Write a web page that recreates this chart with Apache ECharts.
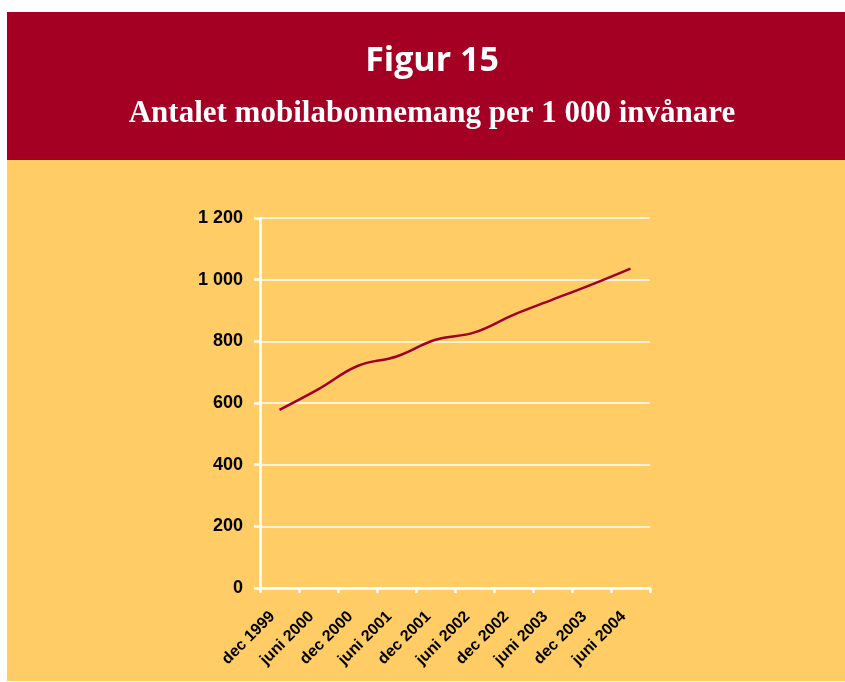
<!DOCTYPE html>
<html>
<head>
<meta charset="utf-8">
<script src="https://cdn.jsdelivr.net/npm/echarts@6/dist/echarts.min.js"></script>
<style>
  html, body { margin: 0; padding: 0; background: #fff; }
  #chart { width: 845px; height: 682px; }
</style>
</head>
<body>
<div id="chart"></div>
<script>
// kategorier (halvår)
const perioder = ['dec 1999', 'juni 2000', 'dec 2000', 'juni 2001', 'dec 2001',
                  'juni 2002', 'dec 2002', 'juni 2003', 'dec 2003', 'juni 2004'];
// mobilabonnemang per 1 000 invånare
const abonnemang = [578, 645, 720, 751, 805, 829, 886, 935, 984, 1036];
// y-axelns skala
const yMin = 0;
const yMax = 1200;
const yStep = 200;

const chart = echarts.init(document.getElementById('chart'), null, { renderer: 'canvas' });

// tusentalsavgränsare med mellanslag, t.ex. "1 200"
function fmt(v) {
    return String(v).replace(/\B(?=(\d{3})+(?!\d))/g, ' ');
}

const option = {
    backgroundColor: '#ffffff',
    animation: false,
    graphic: [
        { type: 'rect', z: -10, shape: { x: 7, y: 12, width: 838, height: 148 }, style: { fill: '#A30024' } },
        { type: 'rect', z: -10, shape: { x: 7, y: 160, width: 838, height: 521 }, style: { fill: '#FFCC66' } },
        {
            type: 'text', x: 432, y: 61,
            style: { text: 'Figur 15', fill: '#fff', align: 'center', verticalAlign: 'middle',
                     font: 'bold 34px "Liberation Sans Narrow", "Open Sans", sans-serif' }
        },
        {
            type: 'text', x: 432, y: 114,
            style: { text: 'Antalet mobilabonnemang per 1 000 invånare', fill: '#fff',
                     align: 'center', verticalAlign: 'middle',
                     font: 'bold 31px "Liberation Serif", "DejaVu Serif", serif' }
        }
    ],
    grid: { left: 260, right: 195, top: 218, bottom: 94, containLabel: false },
    xAxis: {
        type: 'category',
        data: perioder,
        boundaryGap: true,
        axisLine: { lineStyle: { color: '#fff', width: 2.5 } },
        axisTick: { show: true, length: 5, lineStyle: { color: '#fff', width: 2.5 } },
        axisLabel: {
            rotate: 45, interval: 0, margin: 19, color: '#000',
            fontFamily: 'Liberation Sans, Arial, sans-serif', fontWeight: 'bold', fontSize: 16,
            padding: [0, 10, 0, 0]
        }
    },
    yAxis: {
        type: 'value',
        min: yMin, max: yMax, interval: yStep,
        axisLine: { show: true, lineStyle: { color: '#fff', width: 2.5 } },
        axisTick: { show: true, length: 6, lineStyle: { color: '#fff', width: 2.5 } },
        splitLine: { lineStyle: { color: '#fff', width: 1.5 } },
        axisLabel: {
            formatter: fmt, margin: 17, color: '#000',
            fontFamily: 'Liberation Sans, Arial, sans-serif', fontWeight: 'bold', fontSize: 18
        }
    },
    series: [{
        type: 'line',
        data: abonnemang,
        smooth: 0.4,
        symbol: 'none',
        lineStyle: { color: '#A0002A', width: 2.5 }
    }]
};

chart.setOption(option);
</script>
</body>
</html>
